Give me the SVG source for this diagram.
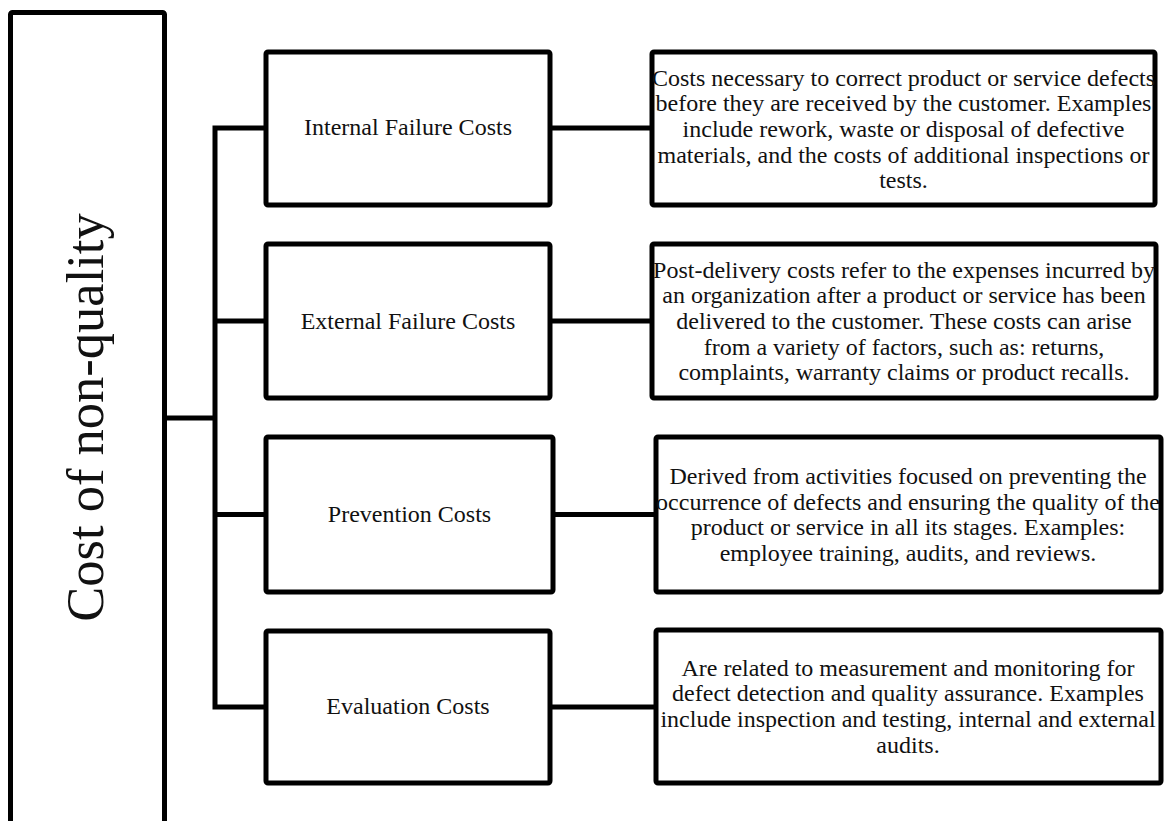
<svg xmlns="http://www.w3.org/2000/svg" width="1164" height="821" viewBox="0 0 1164 821">
<style>
.box{fill:#fff;stroke:#000;stroke-width:5;}
.ln{fill:none;stroke:#000;stroke-width:5;stroke-linecap:square;}
.lbl{font-family:"Liberation Serif","Times New Roman",serif;font-size:24px;fill:#111;text-anchor:middle;}
.big{font-family:"Liberation Serif","Times New Roman",serif;font-size:52.5px;fill:#111;text-anchor:middle;}
</style>
<rect width="1164" height="821" fill="#fff"/>
<g id="connectors">
<path class="ln" d="M165 418 H215 M215 128 V707 M215 128 H266 M215 321 H266 M215 514.5 H266 M215 707 H266 M550 128 H652 M550 321 H652 M553 514.5 H656 M550 707 H656"/>
</g>
<g id="root">
<rect class="box" x="10.5" y="12.5" width="154" height="830" rx="2"/>
<text class="big" transform="translate(103,417.5) rotate(-90)">Cost of non-quality</text>
</g>
<g id="internal">
<rect class="box" x="266" y="52" width="284" height="153" rx="2"/>
<text class="lbl" x="408" y="135">Internal Failure Costs</text>
</g>
<g id="external">
<rect class="box" x="266" y="244" width="284" height="154" rx="2"/>
<text class="lbl" x="408" y="329">External Failure Costs</text>
</g>
<g id="prevention">
<rect class="box" x="266" y="437" width="287" height="155" rx="2"/>
<text class="lbl" x="409.5" y="522">Prevention Costs</text>
</g>
<g id="evaluation">
<rect class="box" x="266" y="631" width="284" height="152" rx="2"/>
<text class="lbl" x="408" y="714">Evaluation Costs</text>
</g>
<g id="internal-desc">
<rect class="box" x="652" y="52" width="503" height="153" rx="2"/>
<text class="lbl" x="903.5" y="85.5">Costs necessary to correct product or service defects</text>
<text class="lbl" x="903.5" y="111.2">before they are received by the customer. Examples</text>
<text class="lbl" x="903.5" y="136.9">include rework, waste or disposal of defective</text>
<text class="lbl" x="903.5" y="162.6">materials, and the costs of additional inspections or</text>
<text class="lbl" x="903.5" y="188.3">tests.</text>
</g>
<g id="external-desc">
<rect class="box" x="652" y="244" width="504" height="154" rx="2"/>
<text class="lbl" x="904" y="277.5">Post-delivery costs refer to the expenses incurred by</text>
<text class="lbl" x="904" y="303.2">an organization after a product or service has been</text>
<text class="lbl" x="904" y="328.9">delivered to the customer. These costs can arise</text>
<text class="lbl" x="904" y="354.6">from a variety of factors, such as: returns,</text>
<text class="lbl" x="904" y="380.3">complaints, warranty claims or product recalls.</text>
</g>
<g id="prevention-desc">
<rect class="box" x="656" y="437" width="505" height="155" rx="2"/>
<text class="lbl" x="908" y="484">Derived from activities focused on preventing the</text>
<text class="lbl" x="908" y="509.7">occurrence of defects and ensuring the quality of the</text>
<text class="lbl" x="908" y="535.4">product or service in all its stages. Examples:</text>
<text class="lbl" x="908" y="561.1">employee training, audits, and reviews.</text>
</g>
<g id="evaluation-desc">
<rect class="box" x="656" y="630" width="505" height="153" rx="2"/>
<text class="lbl" x="908" y="675.5">Are related to measurement and monitoring for</text>
<text class="lbl" x="908" y="701.2">defect detection and quality assurance. Examples</text>
<text class="lbl" x="908" y="726.9">include inspection and testing, internal and external</text>
<text class="lbl" x="908" y="752.6">audits.</text>
</g>
</svg>
